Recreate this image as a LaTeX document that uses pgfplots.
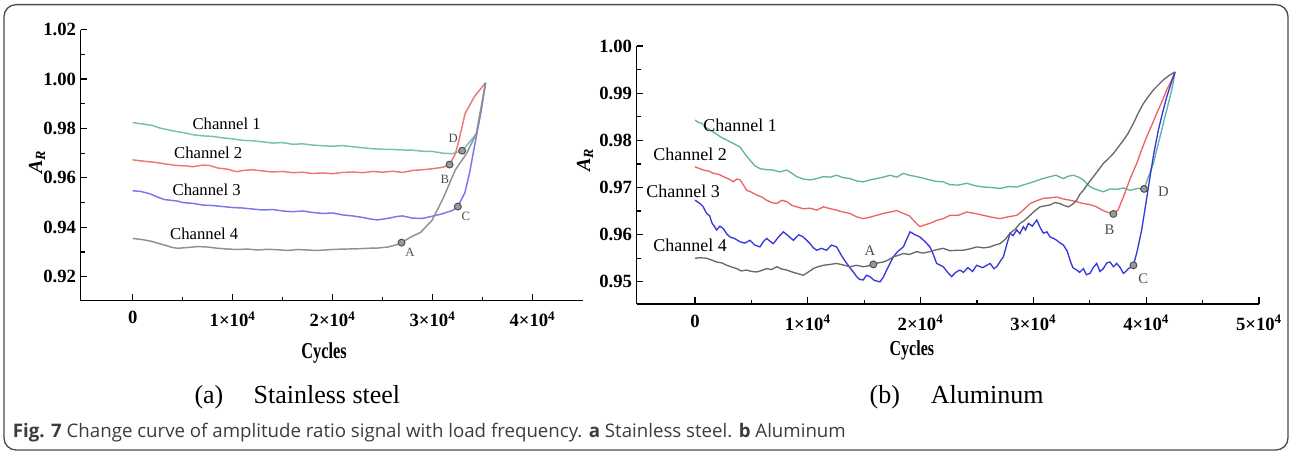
\documentclass[border=0pt]{standalone}
\usepackage{fontspec}
\setmainfont{Liberation Serif}
\newfontfamily\capfont{Open Sans}
\usepackage{graphicx}
\usepackage{pgfplots}
\pgfplotsset{compat=1.18}

\definecolor{tealA}{RGB}{120,192,178}
\definecolor{redA}{RGB}{238,120,120}
\definecolor{blueA}{RGB}{120,120,236}
\definecolor{grayA}{RGB}{145,145,145}
\definecolor{tealB}{RGB}{96,180,160}
\definecolor{redB}{RGB}{236,100,100}
\definecolor{blueB}{RGB}{55,55,220}
\definecolor{grayB}{RGB}{105,105,105}
\definecolor{capgray}{RGB}{60,60,60}

\pgfplotsset{
  panel/.style={
    scale only axis,
    axis lines=left,
    axis line style={-, line width=1.1pt},
    every tick/.style={black, line width=0.9pt},
    tick align=inside,
    major tick length=5pt,
    minor tick length=3pt,
    minor x tick num=1,
    minor y tick num=1,
    scaled ticks=false,
    ticklabel style={font=\fontsize{14}{16}\selectfont\bfseries},
    xticklabel style={yshift=-4.5pt},
  },
  mk/.style={only marks, mark=*, mark size=2.6pt,
    mark options={fill=black!40, draw=black!70, line width=0.7pt}},
}

\begin{document}
\begin{tikzpicture}
\path[use as bounding box] (0pt,0pt) rectangle (969.75pt,340.5pt);
\draw[black!70, line width=1pt, rounded corners=9pt] (3pt,3pt) rectangle (966pt,337pt);

% ---------------- (a) Stainless steel ----------------
\begin{axis}[panel,
  at={(60.53pt,114.98pt)}, anchor=south west,
  width=376.35pt, height=203.25pt,
  xmin=-5200, xmax=45000, ymin=0.91028, ymax=1.02,
  xtick={0,10000,20000,30000,40000},
  xticklabels={0,1×10\textsuperscript{4},2×10\textsuperscript{4},3×10\textsuperscript{4},4×10\textsuperscript{4}},
  ytick={0.92,0.94,0.96,0.98,1.00,1.02},
  yticklabels={0.92,0.94,0.96,0.98,1.00,1.02},
  xlabel={\scalebox{0.72}[1]{Cycles}},
  xlabel style={font=\fontsize{17}{19}\selectfont\bfseries, at={(axis description cs:0.485,-0.193)}, anchor=center},
  ylabel={\itshape\bfseries A\textsubscript{R}},
  ylabel style={font=\fontsize{15}{17}\selectfont, at={(axis description cs:-0.087,0.512)}, anchor=center, rotate=0},
]
\addplot[tealA, line width=1.1pt] coordinates {
(0,0.9824) (1000,0.9818) (2000,0.9812) (2700,0.9802) (3500,0.9795) (4300,0.9788)
(5000,0.9784) (6000,0.9775) (7000,0.9770) (8000,0.9768) (9000,0.9762) (10000,0.9758)
(11000,0.9752) (12000,0.9750) (13000,0.9746) (14000,0.9741) (15000,0.9743) (16000,0.9736)
(17000,0.9738) (18000,0.9733) (19000,0.9730) (20000,0.9728) (21000,0.9731) (22000,0.9726)
(23000,0.9722) (24000,0.9718) (25000,0.9716) (26000,0.9715) (27000,0.9713) (28000,0.9712)
(29000,0.9708) (30000,0.9707) (31000,0.9700) (32000,0.9698) (32960,0.9710)
(33700,0.9745) (34400,0.9780) (34900,0.9880) (35300,0.9985)};
\addplot[redA, line width=1.1pt] coordinates {
(0,0.9673) (1000,0.9668) (2000,0.9664) (2700,0.9660) (3500,0.9655) (4500,0.9650)
(5500,0.9648) (6000,0.9645) (7000,0.9652) (7700,0.9650) (8500,0.9640) (9500,0.9635)
(10400,0.9625) (11000,0.9630) (12000,0.9633) (13000,0.9628) (14000,0.9624) (15000,0.9626)
(16000,0.9621) (17000,0.9623) (18000,0.9618) (19000,0.9620) (20000,0.9617) (21000,0.9622)
(22000,0.9624) (23000,0.9621) (24000,0.9626) (25000,0.9623) (26000,0.9627) (27000,0.9622)
(28000,0.9630) (29000,0.9633) (30000,0.9637) (31000,0.9643) (31700,0.9652)
(32300,0.9700) (32650,0.9754) (33250,0.9860) (34200,0.9930) (35300,0.9985)};
\addplot[blueA, line width=1.1pt] coordinates {
(0,0.9548) (800,0.9545) (1700,0.9536) (2500,0.9522) (3200,0.9512) (3700,0.9510)
(4500,0.9506) (5000,0.9500) (6000,0.9497) (7000,0.9490) (8000,0.9488) (9000,0.9484)
(10000,0.9480) (11000,0.9478) (12000,0.9474) (13000,0.9470) (14000,0.9472) (15000,0.9466)
(16000,0.9463) (17000,0.9466) (18000,0.9460) (19000,0.9456) (20000,0.9458) (21000,0.9450)
(22000,0.9446) (23000,0.9440) (24000,0.9432) (24500,0.9430) (25500,0.9436) (26500,0.9444)
(27000,0.9446) (28000,0.9437) (29000,0.9436) (30000,0.9445) (31000,0.9455) (32000,0.9468)
(32530,0.9484) (33230,0.9540) (33700,0.9620) (34190,0.9727) (34760,0.9850) (35300,0.9985)};
\addplot[grayA, line width=1.1pt] coordinates {
(0,0.9355) (1000,0.9350) (2000,0.9342) (3000,0.9330) (4000,0.9318) (4500,0.9315)
(5500,0.9318) (6500,0.9322) (7500,0.9320) (8500,0.9315) (9500,0.9312) (10500,0.9310)
(11500,0.9312) (12500,0.9308) (13500,0.9311) (14500,0.9309) (15500,0.9306) (16500,0.9310)
(17500,0.9308) (18500,0.9306) (19500,0.9309) (20500,0.9311) (21500,0.9312) (22500,0.9313)
(23500,0.9315) (24500,0.9316) (25500,0.9320) (26300,0.9328) (26900,0.9338) (27800,0.9360)
(28830,0.9380) (29980,0.9430) (31130,0.9524) (32270,0.9632) (33420,0.9700) (34380,0.9780)
(35300,0.9985)};
\addplot[mk] coordinates {(26900,0.9338) (31700,0.9654) (32530,0.9484) (32960,0.9710)};
\node[font=\fontsize{12.5}{14}\selectfont] at (axis cs:9400,0.9821) {Channel 1};
\node[font=\fontsize{12.5}{14}\selectfont] at (axis cs:7560,0.9700) {Channel 2};
\node[font=\fontsize{12.5}{14}\selectfont] at (axis cs:7400,0.9551) {Channel 3};
\node[font=\fontsize{12.5}{14}\selectfont] at (axis cs:7160,0.9373) {Channel 4};
\node[font=\fontsize{9.5}{11}\selectfont, text=black!70] at (axis cs:27730,0.9297) {A};
\node[font=\fontsize{9.5}{11}\selectfont, text=black!70] at (axis cs:31230,0.9594) {B};
\node[font=\fontsize{9.5}{11}\selectfont, text=black!70] at (axis cs:33330,0.9443) {C};
\node[font=\fontsize{9.5}{11}\selectfont, text=black!70] at (axis cs:32060,0.9761) {D};
\end{axis}

% ---------------- (b) Aluminum ----------------
\begin{axis}[panel,
  at={(477.53pt,112.5pt)}, anchor=south west,
  width=466.95pt, height=193.5pt,
  xmin=-5170, xmax=50030, ymin=0.9453, ymax=1.0,
  xtick={0,10000,20000,30000,40000,50000},
  xticklabels={0,1×10\textsuperscript{4},2×10\textsuperscript{4},3×10\textsuperscript{4},4×10\textsuperscript{4},5×10\textsuperscript{4}},
  ytick={0.95,0.96,0.97,0.98,0.99,1.00},
  yticklabels={0.95,0.96,0.97,0.98,0.99,1.00},
  xlabel={\scalebox{0.75}[1]{Cycles}},
  xlabel style={font=\fontsize{16}{18}\selectfont\bfseries, at={(axis description cs:0.442,-0.178)}, anchor=center},
  ylabel={\itshape\bfseries A\textsubscript{R}},
  ylabel style={font=\fontsize{15}{17}\selectfont, at={(axis description cs:-0.083,0.558)}, anchor=center},
]
\addplot[tealB, line width=1pt] coordinates {
(0,0.9843) (300,0.9838) (590,0.9836) (900,0.9828) (1330,0.9822) (1800,0.9815) (2216,0.9808)
(2600,0.9803) (3100,0.9797) (3500,0.9792) (3990,0.9786) (4400,0.9772) (4875,0.9758)
(5300,0.9746) (5760,0.9740) (6300,0.9738) (6940,0.9737) (7500,0.9733) (8125,0.9737)
(8600,0.9730) (9010,0.9723) (9600,0.9718) (10200,0.9716) (10800,0.9719) (11380,0.9723)
(12000,0.9722) (12560,0.9726) (13100,0.9721) (13740,0.9719) (14300,0.9714) (14920,0.9712)
(15500,0.9716) (16100,0.9719) (16700,0.9722) (17290,0.9726) (17900,0.9722) (18470,0.9730)
(19000,0.9726) (19650,0.9723) (20200,0.9720) (20830,0.9716) (21400,0.9713) (22000,0.9712)
(22600,0.9706) (23340,0.9705) (24090,0.9709) (24800,0.9704) (25570,0.9701) (26300,0.9700)
(27045,0.9698) (27800,0.9702) (28520,0.9701) (29200,0.9706) (30000,0.9712) (30700,0.9718)
(31480,0.9723) (32000,0.9726) (32660,0.9719) (33100,0.9724) (33550,0.9726) (34000,0.9722)
(34430,0.9716) (34900,0.9704) (35320,0.9698) (35800,0.9694) (36200,0.9691) (36800,0.9697)
(37390,0.9696) (38000,0.9699) (38570,0.9694) (39200,0.9698) (39810,0.9697) (40640,0.9751)
(41520,0.9836) (42260,0.9906) (42560,0.9945)};
\addplot[redB, line width=1pt] coordinates {
(0,0.9744) (400,0.9740) (740,0.9737) (1200,0.9735) (1625,0.9730) (2100,0.9728) (2510,0.9723)
(3000,0.9718) (3400,0.9712) (3700,0.9718) (3990,0.9716) (4300,0.9705) (4580,0.9694)
(5000,0.9690) (5470,0.9684) (5900,0.9680) (6350,0.9673) (6800,0.9668) (7240,0.9666)
(7700,0.9673) (8130,0.9670) (8600,0.9662) (9010,0.9659) (9600,0.9655) (10200,0.9656)
(10800,0.9652) (11380,0.9659) (12000,0.9655) (12560,0.9652) (13100,0.9648) (13740,0.9645)
(14300,0.9638) (14920,0.9634) (15500,0.9637) (16100,0.9641) (16700,0.9645) (17290,0.9648)
(17900,0.9651) (18470,0.9645) (19000,0.9640) (19350,0.9631) (19700,0.9622) (19950,0.9617)
(20400,0.9621) (20830,0.9624) (21400,0.9630) (22000,0.9634) (22600,0.9641) (23340,0.9641)
(24090,0.9648) (24800,0.9645) (25570,0.9641) (26300,0.9637) (27045,0.9634) (27800,0.9638)
(28520,0.9641) (29100,0.9652) (29700,0.9666) (30300,0.9672) (30890,0.9677) (31500,0.9678)
(32070,0.9680) (32600,0.9676) (33250,0.9673) (33800,0.9670) (34430,0.9666) (35000,0.9664)
(35610,0.9659) (36100,0.9652) (36500,0.9648) (37090,0.9644) (37500,0.9652) (37980,0.9680)
(38600,0.9720) (39160,0.9751) (39600,0.9780) (40050,0.9808) (40500,0.9832) (40930,0.9857)
(41400,0.9882) (41820,0.9907) (42200,0.9925) (42560,0.9945)};
\addplot[blueB, line width=1pt] coordinates {
(0,0.9673) (440,0.9666) (700,0.9660) (1030,0.9645) (1300,0.9640) (1500,0.9625) (1920,0.9610)
(2200,0.9618) (2510,0.9613) (2800,0.9602) (3100,0.9595) (3500,0.9592) (3990,0.9585)
(4400,0.9582) (4875,0.9588) (5300,0.9578) (5760,0.9574) (6050,0.9585) (6350,0.9592)
(6650,0.9586) (6940,0.9581) (7400,0.9595) (7830,0.9606) (8250,0.9598) (8720,0.9588)
(9200,0.9600) (9600,0.9595) (9900,0.9588) (10200,0.9581) (10500,0.9572) (10790,0.9567)
(11200,0.9571) (11670,0.9567) (12100,0.9578) (12560,0.9574) (13000,0.9555) (13450,0.9539)
(13900,0.9525) (14330,0.9511) (14600,0.9505) (14920,0.9504) (15200,0.9514) (15510,0.9511)
(15900,0.9503) (16400,0.9500) (16700,0.9510) (16990,0.9525) (17300,0.9540) (17580,0.9553)
(18000,0.9565) (18470,0.9574) (18800,0.9592) (19060,0.9606) (19500,0.9600) (19950,0.9595)
(20400,0.9585) (20830,0.9574) (21100,0.9560) (21420,0.9539) (22010,0.9532) (22400,0.9520)
(22750,0.9511) (23100,0.9520) (23490,0.9525) (23790,0.9520) (24200,0.9530) (24600,0.9522)
(24970,0.9535) (25500,0.9530) (26160,0.9539) (26500,0.9528) (26750,0.9532) (27100,0.9545)
(27340,0.9553) (27650,0.9580) (27930,0.9603) (28200,0.9598) (28520,0.9610) (28800,0.9602)
(29110,0.9617) (29300,0.9610) (29560,0.9624) (29900,0.9618) (30300,0.9631) (30600,0.9615)
(30890,0.9603) (31200,0.9606) (31480,0.9595) (31800,0.9592) (32070,0.9588) (32400,0.9582)
(32660,0.9578) (33000,0.9565) (33250,0.9546) (33500,0.9530) (33840,0.9525) (34100,0.9520)
(34430,0.9528) (34700,0.9515) (35020,0.9518) (35300,0.9530) (35610,0.9539) (35900,0.9522)
(36200,0.9528) (36500,0.9540) (36800,0.9542) (37100,0.9532) (37390,0.9539) (37700,0.9530)
(37980,0.9518) (38200,0.9522) (38420,0.9528) (38870,0.9535) (39200,0.9565) (39600,0.9610)
(40000,0.9670) (40340,0.9723) (40700,0.9775) (41080,0.9822) (41450,0.9858) (41820,0.9892)
(42200,0.9920) (42560,0.9945)};
\addplot[grayB, line width=1pt] coordinates {
(0,0.9550) (500,0.9551) (1030,0.9550) (1500,0.9546) (1920,0.9542) (2400,0.9540) (2810,0.9535)
(3300,0.9531) (3690,0.9528) (4100,0.9523) (4580,0.9525) (5000,0.9522) (5470,0.9521)
(5900,0.9524) (6350,0.9528) (6800,0.9526) (7240,0.9532) (7700,0.9527) (8130,0.9525)
(8600,0.9521) (9010,0.9518) (9300,0.9516) (9600,0.9514) (10000,0.9520) (10490,0.9528)
(10900,0.9532) (11380,0.9535) (12000,0.9537) (12560,0.9539) (13100,0.9536) (13740,0.9532)
(14300,0.9535) (14920,0.9532) (15400,0.9534) (15810,0.9537) (16200,0.9540) (16700,0.9542)
(17100,0.9546) (17580,0.9553) (18000,0.9556) (18470,0.9560) (19000,0.9558) (19650,0.9564)
(20200,0.9561) (20830,0.9564) (21400,0.9568) (22010,0.9571) (22600,0.9566) (23340,0.9567)
(23790,0.9567) (24400,0.9570) (24970,0.9574) (25600,0.9572) (26160,0.9574) (26600,0.9578)
(27040,0.9581) (27500,0.9590) (27930,0.9603) (28400,0.9612) (28820,0.9624) (29200,0.9630)
(29700,0.9641) (30100,0.9650) (30590,0.9659) (31000,0.9661) (31480,0.9663) (31900,0.9668)
(32360,0.9666) (32700,0.9662) (33100,0.9659) (33500,0.9665) (33840,0.9673) (34100,0.9685)
(34430,0.9694) (34900,0.9710) (35320,0.9723) (35800,0.9738) (36200,0.9751) (36600,0.9760)
(37090,0.9772) (37500,0.9785) (37980,0.9800) (38400,0.9815) (38870,0.9836) (39300,0.9858)
(39750,0.9878) (40200,0.9893) (40640,0.9907) (41100,0.9918) (41520,0.9928) (42000,0.9937)
(42560,0.9945)};
\addplot[mk] coordinates {(15810,0.9537) (37090,0.9644) (38870,0.9535) (39810,0.9697)};
\node[font=\fontsize{13.5}{16}\selectfont] at (axis cs:3990,0.9832) {Channel 1};
\node[font=\fontsize{13.5}{16}\selectfont] at (axis cs:-440,0.9771) {Channel 2};
\node[font=\fontsize{13.5}{16}\selectfont] at (axis cs:-1060,0.9692) {Channel 3};
\node[font=\fontsize{13.5}{16}\selectfont] at (axis cs:-440,0.9578) {Channel 4};
\node[font=\fontsize{11}{13}\selectfont, text=black!70] at (axis cs:15510,0.9567) {A};
\node[font=\fontsize{11}{13}\selectfont, text=black!70] at (axis cs:36740,0.9610) {B};
\node[font=\fontsize{11}{13}\selectfont, text=black!70] at (axis cs:39750,0.9507) {C};
\node[font=\fontsize{11}{13}\selectfont, text=black!70] at (axis cs:41520,0.9691) {D};
\end{axis}

% panel captions
\node[anchor=base west, inner sep=0pt, font=\fontsize{19.5}{22}\selectfont] at (145.7pt,38pt) {(a)};
\node[anchor=base west, inner sep=0pt, font=\fontsize{19.5}{22}\selectfont] at (190pt,38pt) {Stainless steel};
\node[anchor=base west, inner sep=0pt, font=\fontsize{19.5}{22}\selectfont] at (652pt,38pt) {(b)};
\node[anchor=base west, inner sep=0pt, font=\fontsize{19.5}{22}\selectfont] at (698pt,38pt) {Aluminum};

% figure caption
\node[anchor=base west, inner sep=0pt, text=capgray, font=\capfont\fontsize{14}{16}\selectfont] at (9.5pt,12.75pt)
  {\textbf{Fig. 7} Change curve of amplitude ratio signal with load frequency. \textbf{a} Stainless steel. \textbf{b} Aluminum};
\end{tikzpicture}
\end{document}
